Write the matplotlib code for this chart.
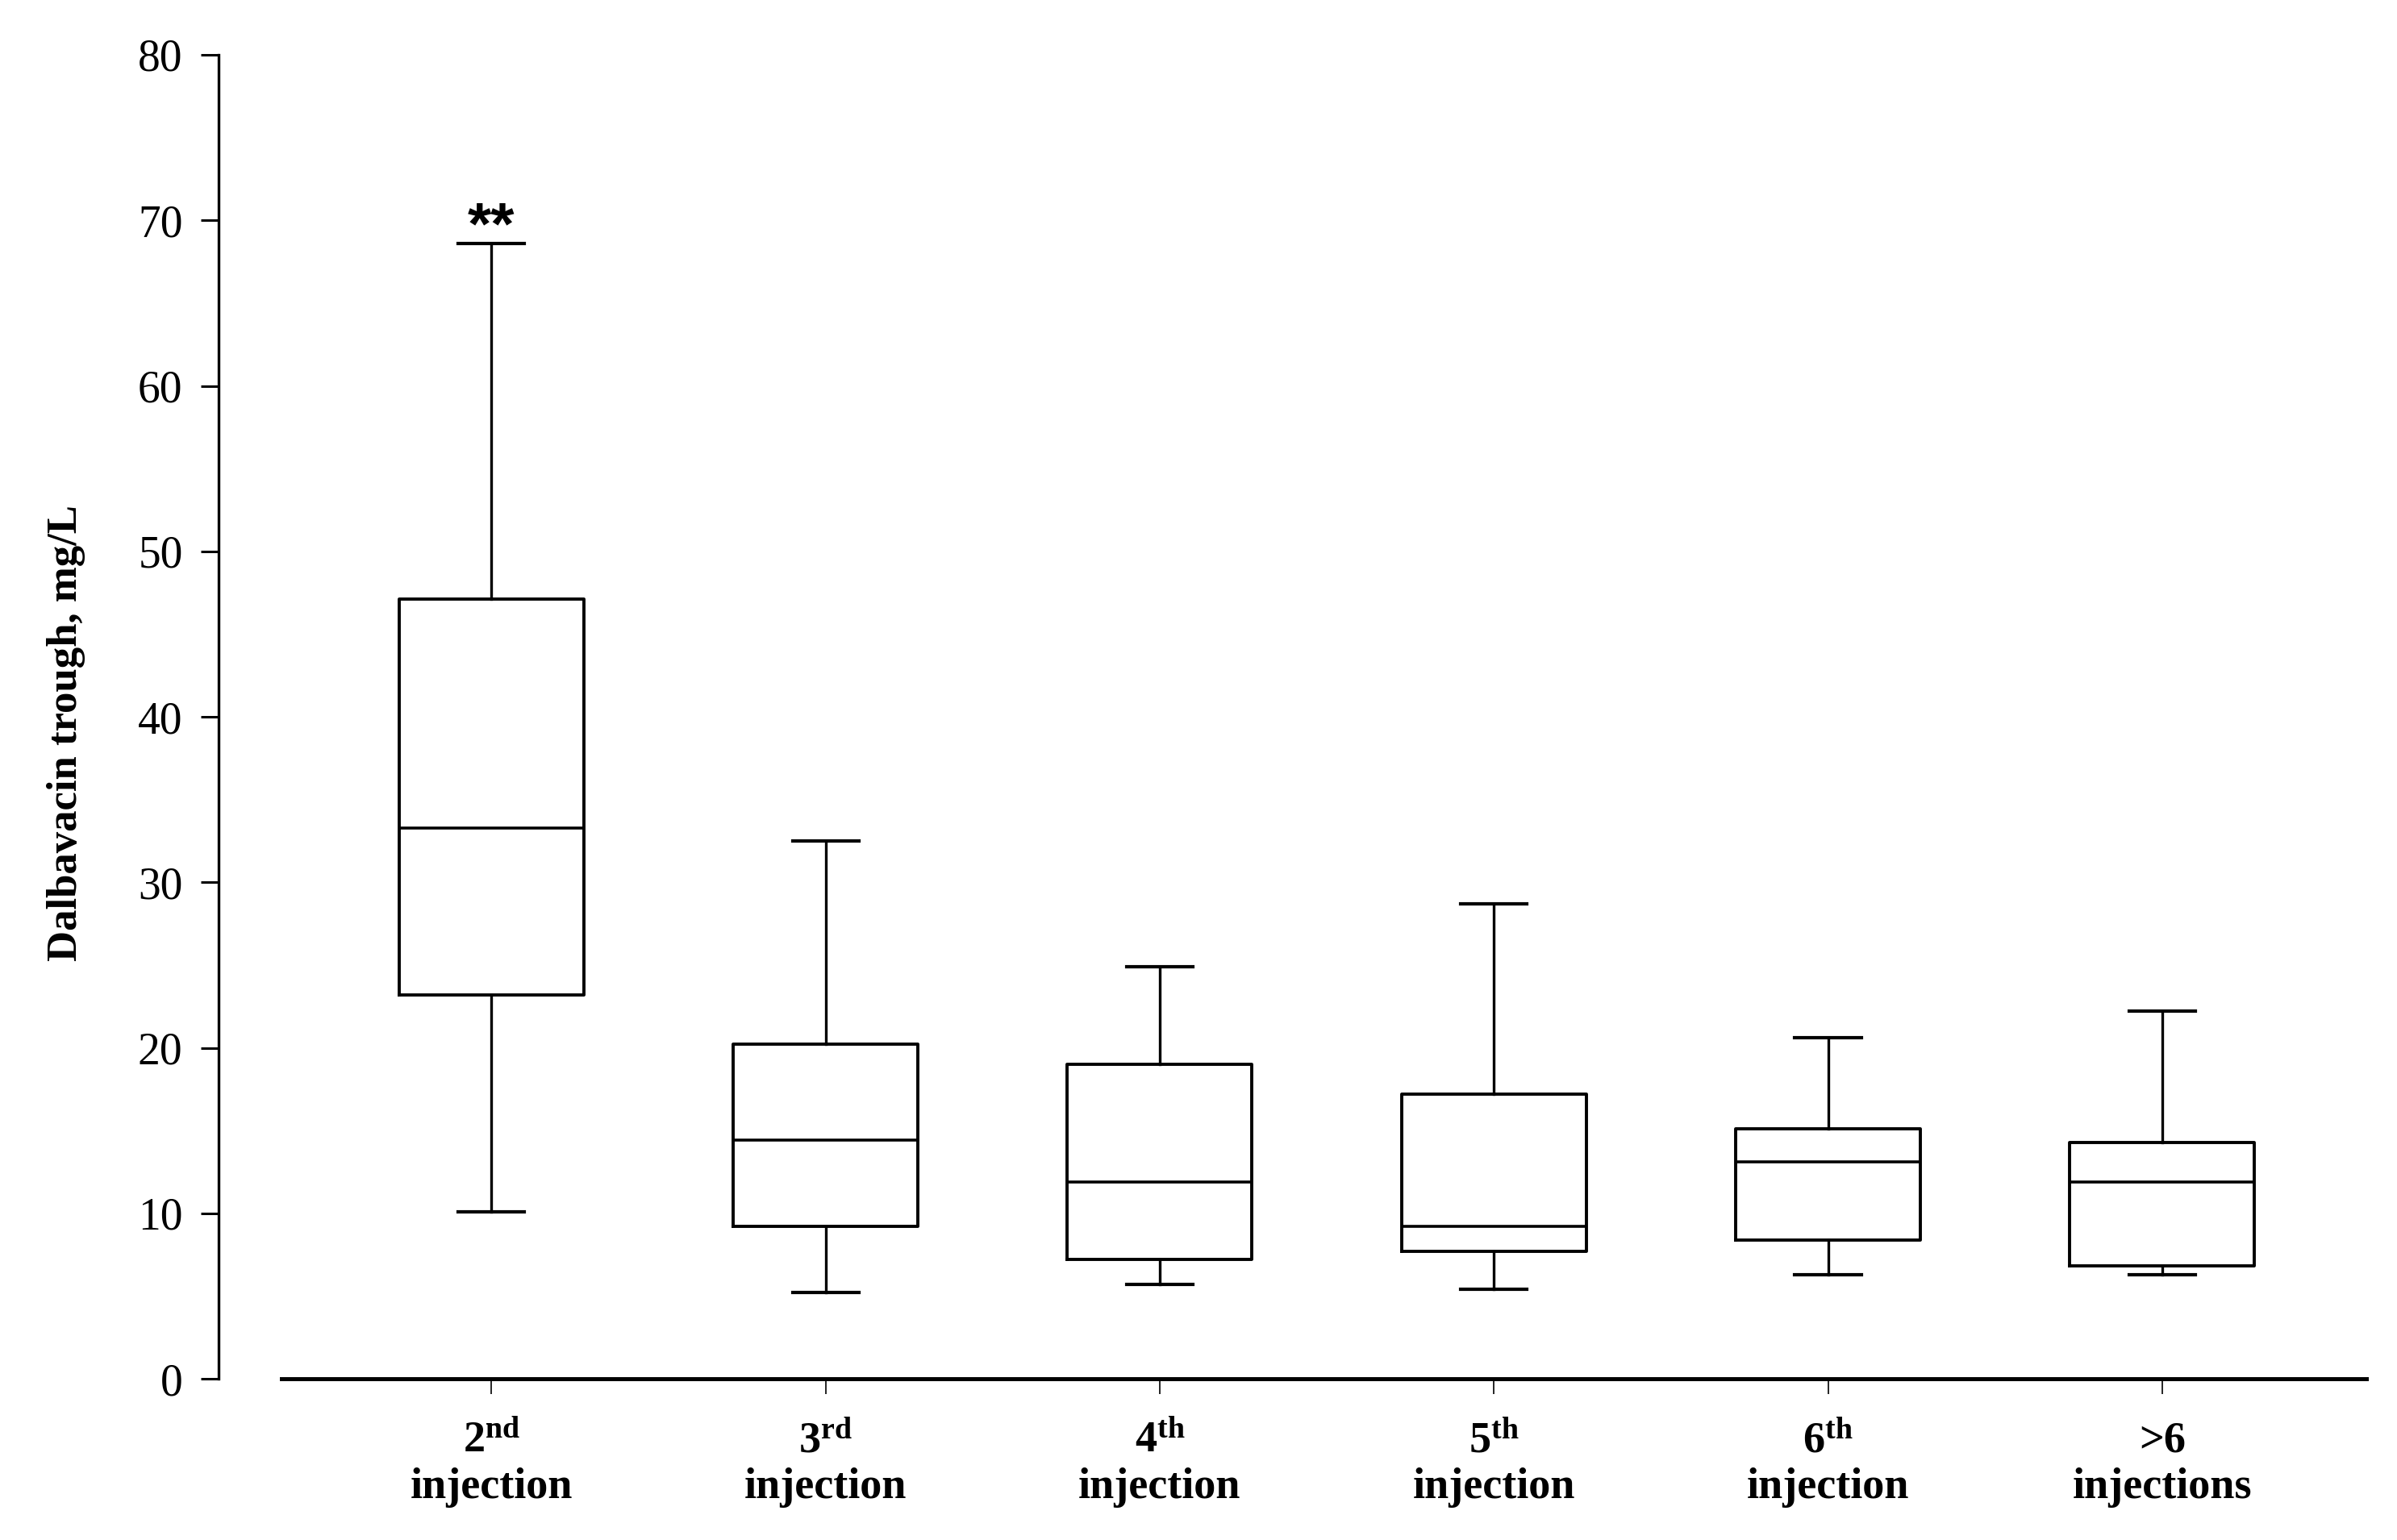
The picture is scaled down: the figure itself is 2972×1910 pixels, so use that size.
import matplotlib
matplotlib.use('Agg')
import matplotlib.pyplot as plt

plt.rcParams['font.family'] = ['Liberation Serif', 'DejaVu Serif']
plt.rcParams['mathtext.fontset'] = 'custom'
plt.rcParams['mathtext.rm'] = 'Liberation Serif:bold'
plt.rcParams['mathtext.it'] = 'Liberation Serif:bold'
plt.rcParams['mathtext.bf'] = 'Liberation Serif:bold'

# values (mg/L)
labels = ['2$^{\\mathrm{nd}}$\ninjection', '3$^{\\mathrm{rd}}$\ninjection',
          '4$^{\\mathrm{th}}$\ninjection', '5$^{\\mathrm{th}}$\ninjection',
          '6$^{\\mathrm{th}}$\ninjection', '>6\ninjections']
whis_lo = [10.1, 5.2, 5.7, 5.4, 6.3, 6.3]
q1 = [23.2, 9.2, 7.2, 7.7, 8.4, 6.8]
median = [33.3, 14.4, 11.9, 9.2, 13.1, 11.9]
q3 = [47.1, 20.2, 19.0, 17.2, 15.1, 14.3]
whis_hi = [68.6, 32.5, 24.9, 28.7, 20.6, 22.2]
yticks = [0, 10, 20, 30, 40, 50, 60, 70, 80]
signif = '**'

stats = []
for i in range(len(labels)):
    stats.append({'whislo': whis_lo[i], 'q1': q1[i], 'med': median[i],
                  'q3': q3[i], 'whishi': whis_hi[i], 'fliers': []})

fig = plt.figure(figsize=(14.86, 9.55), dpi=200)
ax = fig.add_axes([0.0912, 0.1047, 0.9872 - 0.0912, 0.9644 - 0.1047])

ax.bxp(stats, positions=range(1, 7), widths=0.553, showfliers=False,
       boxprops=dict(color='black', linewidth=1.4),
       medianprops=dict(color='black', linewidth=1.3),
       whiskerprops=dict(color='black', linewidth=1.2),
       capprops=dict(color='black', linewidth=1.5),
       capwidths=0.198)

ax.set_xlim(0.1837, 6.611)
ax.set_ylim(0, 80)
ax.set_yticks(yticks)
ax.set_xticks(range(1, 7))
ax.set_xticklabels(labels, fontweight='bold', fontsize=19.5, linespacing=1.2)

ax.spines['top'].set_visible(False)
ax.spines['right'].set_visible(False)
ax.spines['left'].set_linewidth(1.2)
ax.spines['bottom'].set_linewidth(1.8)
ax.spines['bottom'].set_bounds(0.372, 6.611)

ax.tick_params(axis='y', direction='out', length=8, width=1.1, pad=8, labelsize=20)
ax.tick_params(axis='x', direction='out', length=7, width=0.6, pad=12)

ax.text(1, 68.6, signif, ha='center', va='baseline', fontsize=27,
        fontweight='bold', family=['Liberation Sans', 'DejaVu Sans'])

fig.text(0.0276, 0.524, 'Dalbavacin trough, mg/L', rotation=90, ha='center',
         va='center', fontsize=19, fontweight='bold')

fig.savefig('out.png', dpi=200)
